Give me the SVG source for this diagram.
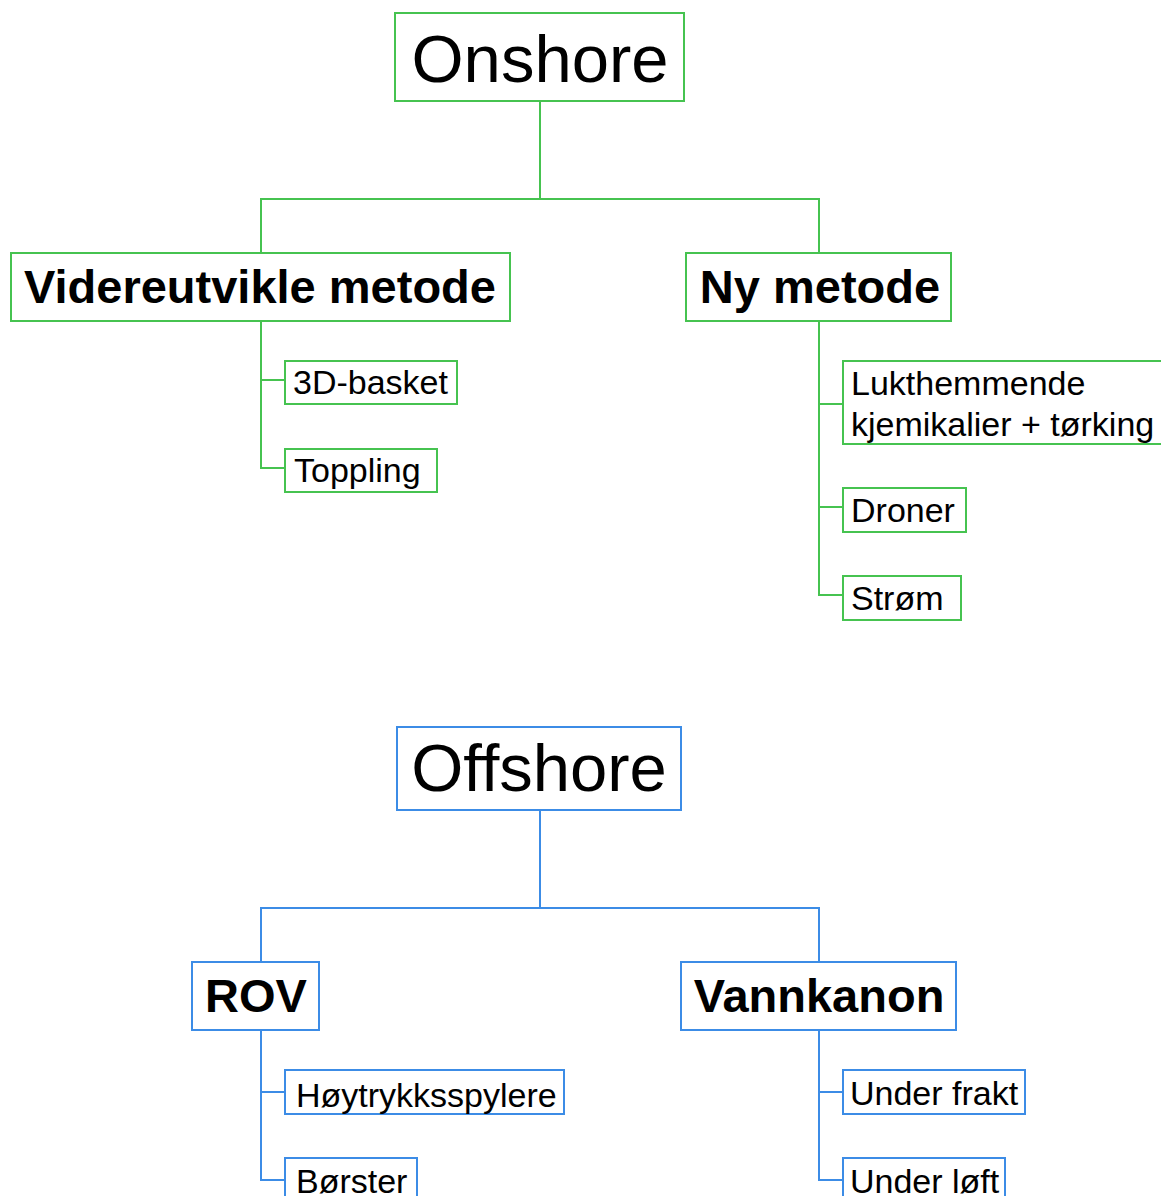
<svg xmlns="http://www.w3.org/2000/svg" width="1161" height="1196" viewBox="0 0 1161 1196">
<style>
  .g rect { fill: #fff; stroke: #46c350; stroke-width: 2; }
  .b rect { fill: #fff; stroke: #3c8ce6; stroke-width: 2; }
  text { font-family: "Liberation Sans", Arial, sans-serif; fill: #000; }
  .root { font-size: 67px; }
  .mid { font-size: 47px; font-weight: bold; }
  .leaf { font-size: 34px; }
  .cg { fill: none; stroke: #46c350; stroke-width: 2; }
  .cb { fill: none; stroke: #3c8ce6; stroke-width: 2; }
</style>
<rect width="1161" height="1196" fill="#fff"/>
<g id="connectors">
  <path class="cg" d="M540 101 V199 M261 253 V199 H819 V253"/>
  <path class="cg" d="M261 321 V468 H285 M261 380 H285"/>
  <path class="cg" d="M819 321 V595 H843 M819 404 H843 M819 507 H843"/>
  <path class="cb" d="M540 810 V908 M261 962 V908 H819 V962"/>
  <path class="cb" d="M261 1030 V1180 H285 M261 1092 H285"/>
  <path class="cb" d="M819 1030 V1180 H843 M819 1092 H843"/>
</g>
<g id="onshore" class="g"><rect x="395" y="13" width="289" height="88"/><text class="root" x="540" y="82" text-anchor="middle">Onshore</text></g>
<g id="videreutvikle" class="g"><rect x="11" y="253" width="499" height="68"/><text class="mid" x="260" y="303" text-anchor="middle">Videreutvikle metode</text></g>
<g id="nymetode" class="g"><rect x="686" y="253" width="265" height="68"/><text class="mid" x="820" y="303" text-anchor="middle">Ny metode</text></g>
<g id="basket" class="g"><rect x="285" y="361" width="172" height="43"/><text class="leaf" x="293" y="394">3D-basket</text></g>
<g id="toppling" class="g"><rect x="285" y="449" width="152" height="43"/><text class="leaf" x="294" y="482">Toppling</text></g>
<g id="lukt" class="g"><rect x="843" y="361" width="330" height="83"/><text class="leaf" x="851" y="395">Lukthemmende</text><text class="leaf" x="851" y="436">kjemikalier + tørking</text></g>
<g id="droner" class="g"><rect x="843" y="488" width="123" height="44"/><text class="leaf" x="851" y="522">Droner</text></g>
<g id="strom" class="g"><rect x="843" y="576" width="118" height="44"/><text class="leaf" x="851" y="610">Strøm</text></g>
<g id="offshore" class="b"><rect x="397" y="727" width="284" height="83"/><text class="root" x="539" y="791" text-anchor="middle">Offshore</text></g>
<g id="rov" class="b"><rect x="192" y="962" width="127" height="68"/><text class="mid" x="256" y="1012" text-anchor="middle">ROV</text></g>
<g id="vannkanon" class="b"><rect x="681" y="962" width="275" height="68"/><text class="mid" x="819" y="1012" text-anchor="middle">Vannkanon</text></g>
<g id="hoytrykk" class="b"><rect x="285" y="1070" width="279" height="44"/><text class="leaf" x="296" y="1107">Høytrykksspylere</text></g>
<g id="borster" class="b"><rect x="285" y="1158" width="132" height="50"/><text class="leaf" x="296" y="1193">Børster</text></g>
<g id="underfrakt" class="b"><rect x="843" y="1070" width="182" height="44"/><text class="leaf" x="850" y="1105">Under frakt</text></g>
<g id="underloft" class="b"><rect x="843" y="1158" width="162" height="50"/><text class="leaf" x="850" y="1193">Under løft</text></g>
</svg>
